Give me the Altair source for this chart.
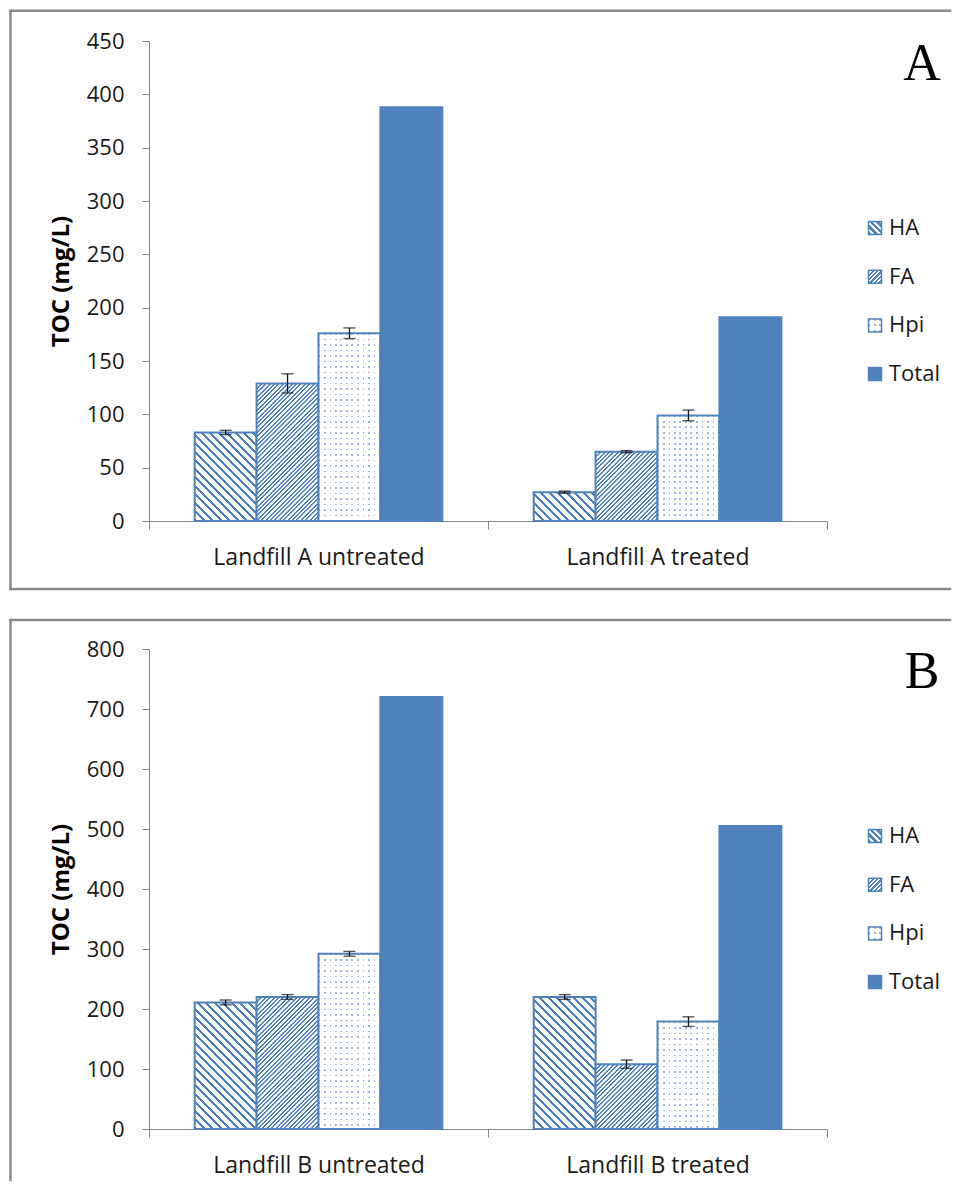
import altair as alt
import pandas as pd

# ---------------- data ----------------
series = ["HA", "FA", "Hpi", "Total"]

groups_a = ["Landfill A untreated", "Landfill A treated"]
vals_a_untreated = [83, 129, 176, 388]
vals_a_treated = [27, 65, 99, 191]
err_a_untreated = [2, 9, 5, 0]
err_a_treated = [1, 1, 5, 0]
ticks_a = [0, 50, 100, 150, 200, 250, 300, 350, 400, 450]

groups_b = ["Landfill B untreated", "Landfill B treated"]
vals_b_untreated = [211, 220, 292, 720]
vals_b_treated = [220, 108, 179, 505]
err_b_untreated = [4, 4, 4, 0]
err_b_treated = [4, 7, 8, 0]
ticks_b = [0, 100, 200, 300, 400, 500, 600, 700, 800]

# ---------------- style / layout ----------------
W, H = 678, 480
BLUE = "#4F81BD"
DOT = "#a3b6de"
AX = "#868686"
FRAME = "#8a8a8a"
FONT = "Open Sans"
OFF_PAD = 0.738
BAR_W = (W / 2) / (4 + 2 * OFF_PAD)


def band_stops(length, period, frac, c1, c2):
    step = period / length
    out = []
    t = 0.0
    while t < 1 - 1e-9:
        e1 = min(t + step * frac, 1.0)
        e2 = min(t + step, 1.0)
        out += [(t, c1), (e1, c1), (e1, c2), (e2, c2)]
        t += step
    return [{"offset": round(o, 5), "color": c} for o, c in out]


def diag_grad(w, h, period, frac, kind):
    L = w + h
    k = L / (w * w + h * h)
    a, b = k * w, k * h
    if kind == "fwd":
        coords = dict(x1=0, y1=0, x2=a, y2=b)
    else:
        coords = dict(x1=0, y1=1, x2=a, y2=1 - b)
    return dict(gradient="linear", stops=band_stops(L, period, frac, BLUE, "#ffffff"), **coords)


def dot_cols(w):
    return dict(gradient="linear", x1=0, y1=0, x2=1, y2=0,
                stops=band_stops(w, 5.5, 0.3, DOT, "#ffffff"))


def dot_mask(h):
    return dict(gradient="linear", x1=0, y1=0, x2=0, y2=1,
                stops=band_stops(h, 5.5, 0.3, "rgba(255,255,255,0)", "#ffffff"))


HA_P, HA_F = 8.5, 0.38
FA_P, FA_F = 4.4, 0.45


def panel(groups, vals, errs, ticks, ymax, letter, frame_top, frame_bottom, bottom_line):
    rows = []
    for g, vs, es in zip(groups, vals, errs):
        for s, v, e in zip(series, vs, es):
            rows.append({"group": g, "series": s, "value": v, "err": e,
                         "lo": v - e, "hi": v + e})
    df = pd.DataFrame(rows)
    df_err = df[df["err"] > 0]

    xs = alt.Scale(domain=groups, paddingInner=0, paddingOuter=0)
    xos = alt.Scale(domain=series, paddingInner=0, paddingOuter=OFF_PAD)
    ys = alt.Scale(domain=[0, ymax], nice=False)
    ax_x = alt.Axis(title=None, labelFontSize=23, labelFont=FONT, labelColor="#1a1a1a",
                    labelPadding=17, labelLimit=0, tickSize=8, tickColor=AX, domainColor=AX,
                    tickBand="extent", labelAngle=0, grid=False)
    ax_y = alt.Axis(values=ticks, title="TOC (mg/L)", titleFont=FONT, titleFontSize=24,
                    titleFontWeight="bold", titleColor="#000000", titleAngle=270,
                    titleX=-88, titleY=H / 2, titleAlign="center", titleBaseline="middle",
                    labelFont=FONT, labelFontSize=22, labelColor="#1a1a1a", labelPadding=18,
                    tickSize=7, tickColor=AX, domainColor=AX, grid=False)

    x_enc = alt.X("group:N", scale=xs, axis=ax_x, title=None, sort=groups)
    xo_enc = alt.XOffset("series:N", scale=xos, sort=series)

    def y_enc(field):
        return alt.Y(field, type="quantitative", scale=ys, axis=ax_y, title="TOC (mg/L)")

    base = alt.Chart(df).encode(x=x_enc, xOffset=xo_enc, y=y_enc("value"))
    layers = []
    for gi, g in enumerate(groups):
        for si, s in enumerate(series[:3]):
            v = vals[gi][si]
            h = v / ymax * H
            sub = base.transform_filter((alt.datum.group == g) & (alt.datum.series == s))
            if s == "HA":
                layers.append(sub.mark_bar(fill=diag_grad(BAR_W, h, HA_P, HA_F, "back"),
                                           stroke=BLUE, strokeWidth=2))
            elif s == "FA":
                layers.append(sub.mark_bar(fill=diag_grad(BAR_W, h, FA_P, FA_F, "fwd"),
                                           stroke=BLUE, strokeWidth=2))
            else:
                layers.append(sub.mark_bar(fill=dot_cols(BAR_W), strokeWidth=0))
                layers.append(sub.mark_bar(fill=dot_mask(h), stroke=BLUE, strokeWidth=2))
    layers.append(base.transform_filter(alt.datum.series == "Total")
                  .mark_bar(fill=BLUE, stroke=BLUE, strokeWidth=2))

    eb = alt.Chart(df_err).encode(x=x_enc, xOffset=xo_enc)
    layers.append(eb.mark_rule(color="#111111", strokeWidth=1.3)
                  .encode(y=y_enc("lo"), y2="hi:Q"))
    layers.append(eb.mark_tick(color="#111111", thickness=1.4, size=12)
                  .encode(y=y_enc("lo")))
    layers.append(eb.mark_tick(color="#111111", thickness=1.4, size=12)
                  .encode(y=y_enc("hi")))

    one = alt.Data(values=[{"k": 1}])
    fl = -138.5
    fr = 801
    layers.append(alt.Chart(one).mark_rule(color=FRAME, strokeWidth=2.5, strokeCap="square")
                  .encode(x=alt.value(fl), x2=alt.value(fr), y=alt.value(frame_top)))
    layers.append(alt.Chart(one).mark_rule(color=FRAME, strokeWidth=2.5, strokeCap="square")
                  .encode(x=alt.value(fl), y=alt.value(frame_top), y2=alt.value(frame_bottom)))
    if bottom_line:
        layers.append(alt.Chart(one).mark_rule(color=FRAME, strokeWidth=2.5, strokeCap="square")
                      .encode(x=alt.value(fl), x2=alt.value(fr), y=alt.value(frame_bottom)))

    layers.append(alt.Chart(one).mark_text(font="Liberation Serif", fontSize=52, align="center",
                                           baseline="alphabetic", color="#000000")
                  .encode(x=alt.value(773), y=alt.value(39), text=alt.value(letter)))

    # legend
    leg_y0, leg_gap = 187, 48.7
    sq = 13
    lx = 726
    for i, s in enumerate(series):
        yc = leg_y0 + i * leg_gap
        pos = dict(x=alt.value(lx - sq / 2), x2=alt.value(lx + sq / 2),
                   y=alt.value(yc - sq / 2), y2=alt.value(yc + sq / 2))
        if s == "HA":
            layers.append(alt.Chart(one).mark_rect(fill=diag_grad(sq, sq, 6.5, 0.55, "back"),
                                                   stroke=BLUE, strokeWidth=1.5).encode(**pos))
        elif s == "FA":
            layers.append(alt.Chart(one).mark_rect(fill=diag_grad(sq, sq, 4.4, 0.5, "fwd"),
                                                   stroke=BLUE, strokeWidth=1.5).encode(**pos))
        elif s == "Hpi":
            layers.append(alt.Chart(one).mark_rect(fill=dot_cols(sq), strokeWidth=0).encode(**pos))
            layers.append(alt.Chart(one).mark_rect(fill=dot_mask(sq), stroke=BLUE,
                                                   strokeWidth=1.5).encode(**pos))
        else:
            layers.append(alt.Chart(one).mark_rect(fill=BLUE, stroke=BLUE,
                                                   strokeWidth=1.5).encode(**pos))
        layers.append(alt.Chart(one).mark_text(font=FONT, fontSize=22, align="left",
                                               baseline="middle", color="#1a1a1a")
                      .encode(x=alt.value(lx + 14), y=alt.value(yc), text=alt.value(s)))

    return alt.layer(*layers).properties(width=W, height=H)


pa = panel(groups_a, [vals_a_untreated, vals_a_treated], [err_a_untreated, err_a_treated],
           ticks_a, 450, "A", -30.3, 548, True)
pb = panel(groups_b, [vals_b_untreated, vals_b_treated], [err_b_untreated, err_b_treated],
           ticks_b, 800, "B", -29, 531, False)

chart = (alt.vconcat(pa, pb, spacing=27)
         .properties(padding={"left": 0, "top": 0, "right": 0, "bottom": 0}, background="white")
         .configure_view(stroke=None))

chart.save("out.html", embed_options={"renderer": "svg", "actions": False})
